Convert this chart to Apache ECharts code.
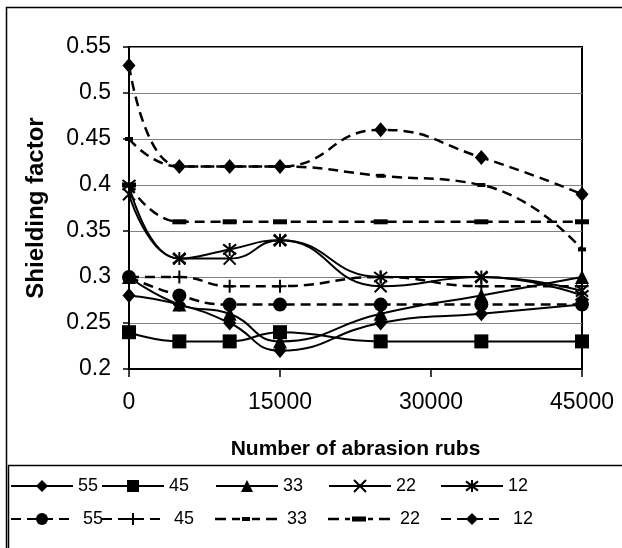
<!DOCTYPE html>
<html><head><meta charset="utf-8">
<script src="https://cdn.jsdelivr.net/npm/echarts@6/dist/echarts.min.js"></script>
<style>html,body{margin:0;padding:0;background:#fff}#c{width:622px;height:548px}</style>
</head><body><div id="c"></div>
<script>
const rubs = [0, 5000, 10000, 15000, 25000, 35000, 45000];
const yTicks = [0.2, 0.25, 0.3, 0.35, 0.4, 0.45, 0.5, 0.55];
const xTicks = [0, 15000, 30000, 45000];
const solid55 = [0.28, 0.27, 0.25, 0.22, 0.25, 0.26, 0.27];
const solid45 = [0.24, 0.23, 0.23, 0.24, 0.23, 0.23, 0.23];
const solid33 = [0.30, 0.27, 0.26, 0.23, 0.26, 0.28, 0.30];
const solid22 = [0.39, 0.32, 0.32, 0.34, 0.29, 0.30, 0.285];
const solid12 = [0.40, 0.32, 0.33, 0.34, 0.30, 0.30, 0.28];
const dash55 = [0.30, 0.28, 0.27, 0.27, 0.27, 0.27, 0.27];
const dash45 = [0.30, 0.30, 0.29, 0.29, 0.30, 0.29, 0.29];
const dash33 = [0.45, 0.42, 0.42, 0.42, 0.41, 0.40, 0.33];
const dash22 = [0.40, 0.36, 0.36, 0.36, 0.36, 0.36, 0.36];
const dash12 = [0.53, 0.42, 0.42, 0.42, 0.46, 0.43, 0.39];
const row1 = ['55', '45', '33', '22', '12'];
const row2 = [' 55', ' 45', ' 33', ' 22', ' 12'];

const pair = arr => rubs.map((x, i) => [x, arr[i]]);
const FONT = '"Liberation Sans", Arial, sans-serif';
const XPATH = 'path://M0,0L10,10M10,0L0,10';
const STAR = 'path://M0,0L10,10M10,0L0,10M5,-1.5L5,11.5';
const PLUS = 'path://M5,0L5,10M0,5L10,5';
// legend icons for the two "dash" marker series (dashed line + bar marker)
const ICON33 = 'path://M0,0.75H11V3.25H0ZM17,0.75H25V3.25H17ZM27,0H35V4H27ZM37,0.75H45V3.25H37ZM51,0.75H62V3.25H51Z';
const ICON22 = 'path://M0,1.25H11V3.75H0ZM17,1.25H22V3.75H17ZM24,0H38V5H24ZM40,1.25H45V3.75H40ZM51,1.25H62V3.75H51Z';

function mk(name, data, dashed, symbol, size, stroke) {
  return {
    name, type: 'line', data: pair(data), smooth: 0.5,
    symbol, symbolSize: size, showSymbol: true,
    lineStyle: { color: '#000', width: dashed ? 2.5 : 2, type: dashed ? [10, 6] : 'solid' },
    itemStyle: stroke ? { color: 'transparent', borderColor: '#000', borderWidth: 2 } : { color: '#000', borderWidth: 0 },
    emphasis: { disabled: true }, z: 3
  };
}

const series = [
  mk(row1[0], solid55, false, 'diamond', [13, 15]),
  mk(row1[1], solid45, false, 'rect', 14),
  mk(row1[2], solid33, false, 'triangle', 14),
  mk(row1[3], solid22, false, XPATH, 12, true),
  mk(row1[4], solid12, false, STAR, 13, true),
  mk(row2[0], dash55, true, 'circle', 14),
  mk(row2[1], dash45, true, PLUS, 13, true),
  mk(row2[2], dash33, true, 'rect', [8, 4]),
  mk(row2[3], dash22, true, 'rect', [14, 5]),
  mk(row2[4], dash12, true, 'diamond', [13, 15])
];

const itemLefts = [10, 101, 215, 328, 440];
const legends = [];
function addLegend(name, left, top, extra) {
  legends.push(Object.assign({
    orient: 'horizontal', left, top, itemWidth: 62, itemHeight: 15, itemGap: 0,
    padding: 0, selectedMode: false,
    textStyle: { fontFamily: FONT, fontSize: 18, color: '#000' },
    data: [name]
  }, extra || {}));
}
row1.forEach((n, i) => addLegend(n, itemLefts[i], 477));
row2.forEach((n, i) => {
  if (i === 2) addLegend({ name: n, icon: ICON33 }, itemLefts[i], 510, { itemHeight: 4 });
  else if (i === 3) addLegend({ name: n, icon: ICON22 }, itemLefts[i], 510, { itemHeight: 5 });
  else addLegend(n, itemLefts[i], 510);
});

const chart = echarts.init(document.getElementById('c'), null, { renderer: 'canvas' });
chart.setOption({
  animation: false,
  backgroundColor: '#fff',
  graphic: [
    { type: 'rect', shape: { x: 6.5, y: 7.5, width: 700, height: 700 }, style: { fill: 'none', stroke: '#000', lineWidth: 1.5 }, z: -1 },
    { type: 'rect', shape: { x: 8.5, y: 465.5, width: 700, height: 200 }, style: { fill: 'none', stroke: '#000', lineWidth: 1.5 }, z: -1 }
  ],
  grid: { left: 129, top: 47, right: 40, bottom: 179, show: true, borderColor: '#000', borderWidth: 2, backgroundColor: 'transparent' },
  xAxis: {
    type: 'value', min: xTicks[0], max: xTicks[xTicks.length - 1], interval: 15000,
    name: 'Number of abrasion rubs', nameLocation: 'middle', nameGap: 70,
    nameTextStyle: { fontFamily: FONT, fontSize: 21, fontWeight: 'bold', color: '#000' },
    axisLine: { show: true, lineStyle: { color: '#000', width: 2 } },
    axisTick: { show: true, length: 8, lineStyle: { color: '#000', width: 1.5 } },
    axisLabel: { fontFamily: FONT, fontSize: 23, color: '#000', margin: 22, formatter: v => String(v) },
    splitLine: { show: false }
  },
  yAxis: {
    type: 'value', min: yTicks[0], max: yTicks[yTicks.length - 1], interval: 0.05,
    name: 'Shielding factor', nameLocation: 'middle', nameGap: 81,
    nameTextStyle: { fontFamily: FONT, fontSize: 24, fontWeight: 'bold', color: '#000' },
    axisLine: { show: true, lineStyle: { color: '#000', width: 2 } },
    axisTick: { show: true, length: 6, lineStyle: { color: '#000', width: 1.5 } },
    axisLabel: { fontFamily: FONT, fontSize: 23, color: '#000', margin: 18, formatter: v => String(+v.toFixed(2)) },
    splitLine: { show: true, lineStyle: { color: '#808080', width: 1 } }
  },
  legend: legends,
  series
});
</script>
</body></html>
